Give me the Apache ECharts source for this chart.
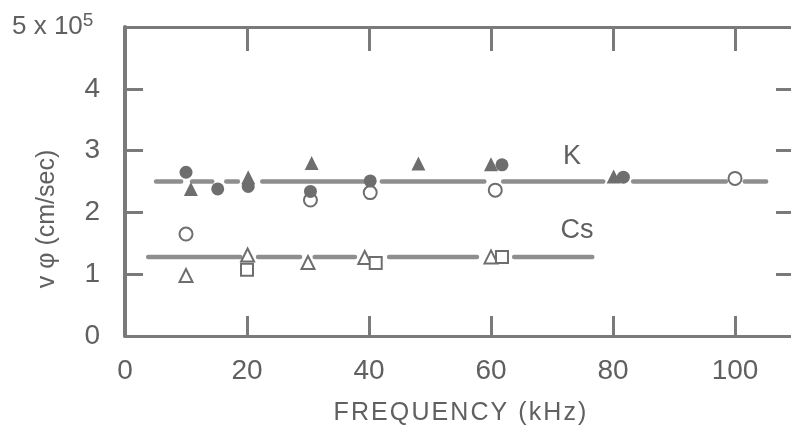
<!DOCTYPE html>
<html><head><meta charset="utf-8">
<script src="https://cdn.jsdelivr.net/npm/echarts@6/dist/echarts.min.js"></script>
<style>html,body{margin:0;padding:0;background:#fff;overflow:hidden}#c{width:800px;height:431px}</style>
</head><body><div id="c"></div>
<script>
// ---- data ----
const xTicks = [0, 20, 40, 60, 80, 100];
const yTicks = [0, 1, 2, 3, 4];
const kLevel = 2.5;
const csLevel = 1.28;
const kLineSegs = [[5.1,9.2],[11.0,14.3],[16.6,18.5],[22.5,39.3],[42.1,58.9],[62.0,78.4],[83.3,98.5],[101.6,105.1]];
const csLineSegs = [[3.8,18.9],[21.8,28.7],[31.1,37.7],[43.3,57.7],[63.8,76.6]];
const kFilledCircles = [[10.0,2.65],[15.2,2.38],[20.2,2.42],[30.4,2.34],[40.2,2.51],[61.8,2.77],[81.7,2.57]];
const kFilledTriangles = [[10.8,2.38],[20.2,2.57],[30.6,2.80],[48.1,2.79],[60.0,2.78],[80.1,2.58]];
const kOpenCircles = [[30.4,2.20],[40.2,2.32],[60.7,2.36],[100.0,2.55]];
const csOpenCircles = [[10.0,1.65]];
const csOpenTriangles = [[10.0,0.98],[20.1,1.31],[30.0,1.19],[39.3,1.27],[60.0,1.28]];
const csOpenSquares = [[20.0,1.07],[41.1,1.18],[61.8,1.28]];

const AX = '#7a7a7a', TXT = '#606060', MK = '#6e6e6e', LN = '#8e8e8e';
const FONT = 'Liberation Sans';

const chart = echarts.init(document.getElementById('c'), null, {renderer:'canvas'});
const series = [];
function segSeries(segs, level){
  segs.forEach(s => series.push({
    type:'line', data:[[s[0],level],[s[1],level]], symbol:'none', silent:true,
    lineStyle:{color:LN, width:4.5, cap:'round'}, z:2, animation:false
  }));
}
segSeries(kLineSegs, kLevel);
segSeries(csLineSegs, csLevel);
function sc(data, symbol, size, filled){
  series.push({type:'scatter', data, symbol, symbolSize:size, z:5, animation:false,
    itemStyle: filled ? {color:MK, opacity:1} : {color:'#fff', borderColor:MK, borderWidth:2, opacity:1}});
}
sc(kOpenCircles,'circle',13,false);
sc(kFilledCircles,'circle',13,true);
sc(kFilledTriangles,'triangle',14,true);
sc(csOpenCircles,'circle',13,false);
sc(csOpenTriangles,'triangle',13,false);
sc(csOpenSquares,'rect',12,false);

const hs = '\u200A';
const xName = 'FREQUENCY (kHz)'.split('').join(hs);

chart.setOption({
  animation:false,
  backgroundColor:'#fff',
  grid:{left:125, top:27, right:4, bottom:95, containLabel:false},
  xAxis:[{
    type:'value', min:0, max:110, interval:20, position:'bottom',
    axisLine:{show:true, onZero:false, lineStyle:{color:AX, width:3}},
    axisTick:{show:true, inside:true, length:20, lineStyle:{color:AX, width:3}},
    splitLine:{show:false},
    axisLabel:{show:true, margin:21, color:TXT, fontSize:28, fontFamily:FONT,
      formatter:v => xTicks.indexOf(v) >= 0 ? String(v) : ''},
    showMaxLabel:false
  },{
    type:'value', min:0, max:110, interval:20, position:'top',
    axisLine:{show:true, onZero:false, lineStyle:{color:AX, width:3}},
    axisTick:{show:true, inside:true, length:24, lineStyle:{color:AX, width:3}},
    splitLine:{show:false}, axisLabel:{show:false}
  }],
  yAxis:[{
    type:'value', min:0, max:5, interval:1, position:'left',
    axisLine:{show:true, onZero:false, lineStyle:{color:AX, width:4}},
    axisTick:{show:true, inside:true, length:18, lineStyle:{color:AX, width:3}},
    splitLine:{show:false},
    axisLabel:{show:true, margin:25, color:TXT, fontSize:28, fontFamily:FONT,
      formatter:v => yTicks.indexOf(v) >= 0 ? String(v) : ''}
  },{
    type:'value', min:0, max:5, interval:1, position:'right',
    axisLine:{show:true, onZero:false, lineStyle:{color:AX, width:3}},
    axisTick:{show:true, inside:true, length:20, lineStyle:{color:AX, width:3}},
    splitLine:{show:false}, axisLabel:{show:false}
  }],
  series: series,
  graphic:[
    {type:'text', left:12, top:11, style:{
      text:'5 x 10{s|5}', fill:TXT, fontSize:26, fontFamily:FONT,
      rich:{s:{fontSize:19, fontFamily:FONT, fill:TXT, verticalAlign:'top', padding:[0,0,12,0]}}
    }},
    {type:'text', x:47, y:219, rotation:Math.PI/2, style:{
      text:'v \u03C6 (cm/sec)', fill:TXT, font:'25px "Liberation Sans"', align:'center', verticalAlign:'middle'}},
    {type:'text', x:460, y:413, style:{
      text:xName, fill:TXT, font:'25px "Liberation Sans"', align:'center', verticalAlign:'middle'}},
    {type:'text', x:572, y:157, style:{text:'K', fill:TXT, font:'27px "Liberation Sans"', align:'center', verticalAlign:'middle'}},
    {type:'text', x:577, y:231, style:{text:'Cs', fill:TXT, font:'27px "Liberation Sans"', align:'center', verticalAlign:'middle'}}
  ]
});
</script></body></html>
